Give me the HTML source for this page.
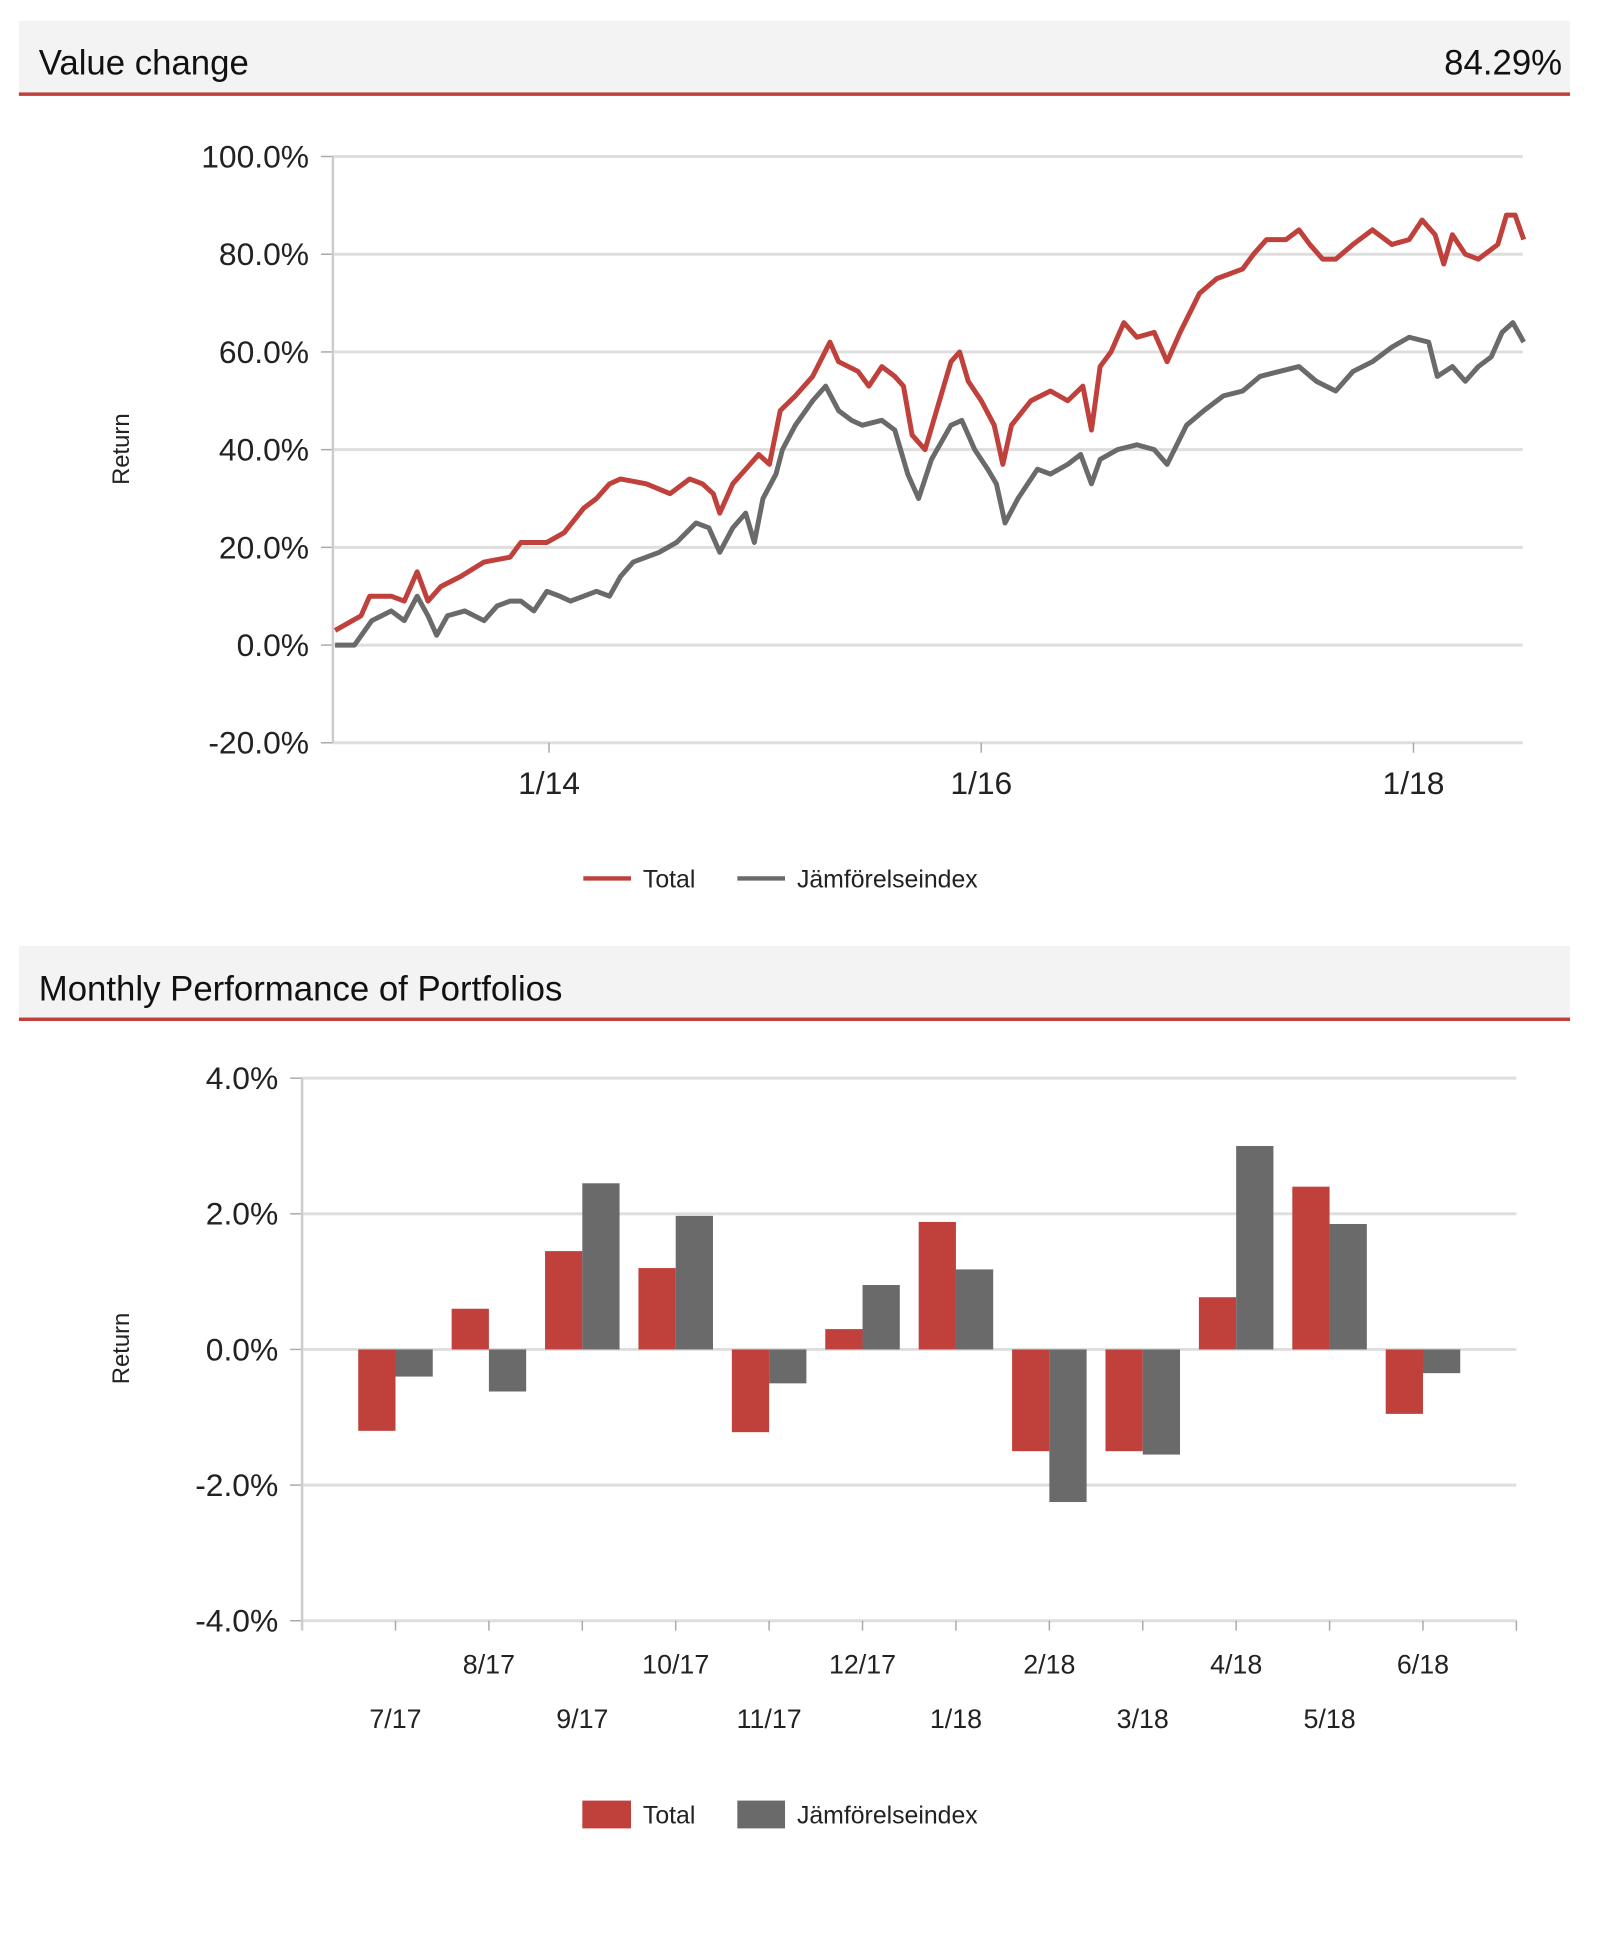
<!DOCTYPE html>
<html><head><meta charset="utf-8"><style>
html,body{margin:0;padding:0;background:#fff;}
svg{display:block;font-family:"Liberation Sans","DejaVu Sans",sans-serif;}
</style></head><body>
<svg id="s" width="1600" height="1946" viewBox="0 0 1600 1946">
<g transform="scale(0.9937)">
<rect x="19" y="21" width="1561" height="74" fill="#f3f3f3"/>
<rect x="19" y="93" width="1561" height="3.5" fill="#c0403c"/>
<text x="39" y="75" font-size="35" fill="#111">Value change</text>
<text x="1572" y="75" font-size="35" fill="#111" text-anchor="end">84.29%</text>
<g id="c1"></g>
<text transform="translate(130,452) rotate(-90)" font-size="24" fill="#222" text-anchor="middle">Return</text>
<g>
<line x1="587" y1="884" x2="635" y2="884" stroke="#c0403c" stroke-width="4.5"/>
<text x="647" y="893" font-size="25" fill="#222">Total</text>
<line x1="742" y1="884" x2="790" y2="884" stroke="#6a6a6a" stroke-width="4.5"/>
<text x="802" y="893" font-size="25" fill="#222">Jämförelseindex</text>
</g>
<rect x="19" y="952" width="1561" height="73" fill="#f3f3f3"/>
<rect x="19" y="1024" width="1561" height="3.5" fill="#c0403c"/>
<text x="39" y="1007" font-size="35" fill="#111">Monthly Performance of Portfolios</text>
<g id="c2"></g>
<text transform="translate(130,1357) rotate(-90)" font-size="24" fill="#222" text-anchor="middle">Return</text>
<g>
<rect x="586" y="1812" width="49" height="28" fill="#c0403c"/>
<text x="647" y="1835" font-size="25" fill="#222">Total</text>
<rect x="742" y="1812" width="48" height="28" fill="#6a6a6a"/>
<text x="802" y="1835" font-size="25" fill="#222">Jämförelseindex</text>
</g>
</g>
</svg>
<script>
// ---- line chart data (years since Jan 2013, return %) ----
const totalT=[0.01,0.13,0.17,0.27,0.33,0.39,0.44,0.50,0.59,0.70,0.82,0.87,0.99,1.07,1.16,1.22,1.28,1.33,1.45,1.56,1.65,1.71,1.76,1.79,1.85,1.91,1.97,2.02,2.07,2.14,2.22,2.30,2.34,2.43,2.48,2.54,2.60,2.64,2.68,2.74,2.78,2.86,2.90,2.94,3.00,3.06,3.10,3.14,3.23,3.32,3.40,3.47,3.51,3.55,3.60,3.66,3.72,3.80,3.86,3.92,4.01,4.09,4.15,4.21,4.26,4.32,4.41,4.47,4.52,4.58,4.64,4.72,4.81,4.90,4.98,5.04,5.10,5.14,5.18,5.24,5.30,5.39,5.43,5.47,5.51];
const totalV=[3,6,10,10,9,15,9,12,14,17,18,21,21,23,28,30,33,34,33,31,34,33,31,27,33,36,39,37,48,51,55,62,58,56,53,57,55,53,43,40,46,58,60,54,50,45,37,45,50,52,50,53,44,57,60,66,63,64,58,64,72,75,76,77,80,83,83,85,82,79,79,82,85,82,83,87,84,78,84,80,79,82,88,88,83];
const indexT=[0.01,0.10,0.18,0.27,0.33,0.39,0.44,0.48,0.53,0.61,0.70,0.76,0.82,0.87,0.93,0.99,1.05,1.10,1.16,1.22,1.28,1.33,1.39,1.51,1.59,1.68,1.74,1.79,1.85,1.91,1.95,1.99,2.05,2.08,2.14,2.22,2.28,2.34,2.40,2.45,2.54,2.60,2.66,2.71,2.77,2.86,2.91,2.97,3.03,3.07,3.11,3.17,3.26,3.32,3.40,3.46,3.51,3.55,3.63,3.72,3.80,3.86,3.95,4.03,4.12,4.21,4.29,4.38,4.47,4.55,4.64,4.72,4.81,4.90,4.98,5.07,5.11,5.18,5.24,5.30,5.36,5.41,5.46,5.51];
const indexV=[0,0,5,7,5,10,6,2,6,7,5,8,9,9,7,11,10,9,10,11,10,14,17,19,21,25,24,19,24,27,21,30,35,40,45,50,53,48,46,45,46,44,35,30,38,45,46,40,36,33,25,30,36,35,37,39,33,38,40,41,40,37,45,48,51,52,55,56,57,54,52,56,58,61,63,62,55,57,54,57,59,64,66,62];
const lineYTicks=[-20,0,20,40,60,80,100];
const lineXTickT=[1,3,5];
const lineXTickLabels=["1/14","1/16","1/18"];
// ---- bar chart data ----
const months=["7/17","8/17","9/17","10/17","11/17","12/17","1/18","2/18","3/18","4/18","5/18","6/18"];
const barTotal=[-1.2,0.6,1.45,1.2,-1.22,0.3,1.88,-1.5,-1.5,0.77,2.4,-0.95];
const barIndex=[-0.4,-0.62,2.45,1.97,-0.5,0.95,1.18,-2.25,-1.55,3.0,1.85,-0.35];
const barYTicks=[-4,-2,0,2,4];

const NS="http://www.w3.org/2000/svg";
function mk(parent,tag,attrs){const e=document.createElementNS(NS,tag);for(const k in attrs)e.setAttribute(k,attrs[k]);parent.appendChild(e);return e;}

// line chart
const c1=document.getElementById('c1');
const L1=335,R1=1532.5,T1=157.5,B1=747.5,TMAX=5.506;
const x1=t=>L1+t/TMAX*(R1-L1);
const y1=v=>B1-(v+20)/120*(B1-T1);
lineYTicks.forEach(v=>{
  const g=mk(c1,'line',{x1:L1,x2:R1,y1:y1(v),y2:y1(v),stroke:'#dedede','stroke-width':3});
  
  
  mk(c1,'line',{x1:L1-12,x2:L1,y1:y1(v),y2:y1(v),stroke:'#aaa','stroke-width':1.5});
  const t=mk(c1,'text',{x:L1-24,y:y1(v)+11,'font-size':32,'text-anchor':'end',fill:'#222'});
  t.textContent=v.toFixed(1)+'%';
  
  
});
mk(c1,'line',{x1:L1,x2:L1,y1:T1,y2:B1,stroke:'#ccc','stroke-width':2.5});
lineXTickT.forEach((tt,i)=>{
  mk(c1,'line',{x1:x1(tt),x2:x1(tt),y1:B1,y2:B1+10,stroke:'#aaa','stroke-width':1.5});
  const t=mk(c1,'text',{x:x1(tt),y:799,'font-size':32,'text-anchor':'middle',fill:'#222'});
  t.textContent=lineXTickLabels[i];
  
  
});
function path(T,V){return T.map((t,i)=>(i?'L':'M')+x1(t).toFixed(1)+','+y1(V[i]).toFixed(1)).join('');}
const pi=mk(c1,'path',{d:path(indexT,indexV),fill:'none',stroke:'#6a6a6a','stroke-width':5,'stroke-linejoin':'round'});


const pt=mk(c1,'path',{d:path(totalT,totalV),fill:'none',stroke:'#c0403c','stroke-width':5,'stroke-linejoin':'round'});



// bar chart
const c2=document.getElementById('c2');
const L2=304,R2=1526,T2=1085,B2=1631;
const y2=v=>B2-(v+4)/8*(B2-T2);
const step=(R2-L2)/13, bw=37.5;
barYTicks.forEach(v=>{
  const g=mk(c2,'line',{x1:L2,x2:R2,y1:y2(v),y2:y2(v),stroke:'#dedede','stroke-width':3});
  
  
  mk(c2,'line',{x1:L2-12,x2:L2,y1:y2(v),y2:y2(v),stroke:'#aaa','stroke-width':1.5});
  const t=mk(c2,'text',{x:L2-24,y:y2(v)+11,'font-size':32,'text-anchor':'end',fill:'#222'});
  t.textContent=v.toFixed(1)+'%';
  
  
});
mk(c2,'line',{x1:L2,x2:L2,y1:T2,y2:B2+10,stroke:'#ccc','stroke-width':2.5});
mk(c2,'line',{x1:R2,x2:R2,y1:B2,y2:B2+10,stroke:'#aaa','stroke-width':1.5});
months.forEach((m,i)=>{
  const cx=L2+(i+1)*step;
  mk(c2,'line',{x1:cx,x2:cx,y1:B2,y2:B2+10,stroke:'#aaa','stroke-width':1.5});
  const t=mk(c2,'text',{x:cx,y:(i%2?1684:1739),'font-size':27,'text-anchor':'middle',fill:'#222'});
  t.textContent=m;
  
  
  const a=barTotal[i], b=barIndex[i];
  const r1=mk(c2,'rect',{x:cx-bw,y:Math.min(y2(a),y2(0)),width:bw,height:Math.abs(y2(a)-y2(0)),fill:'#c0403c'});
  
  
  const r2=mk(c2,'rect',{x:cx,y:Math.min(y2(b),y2(0)),width:bw,height:Math.abs(y2(b)-y2(0)),fill:'#6a6a6a'});
  
  
});
</script>
</body></html>
